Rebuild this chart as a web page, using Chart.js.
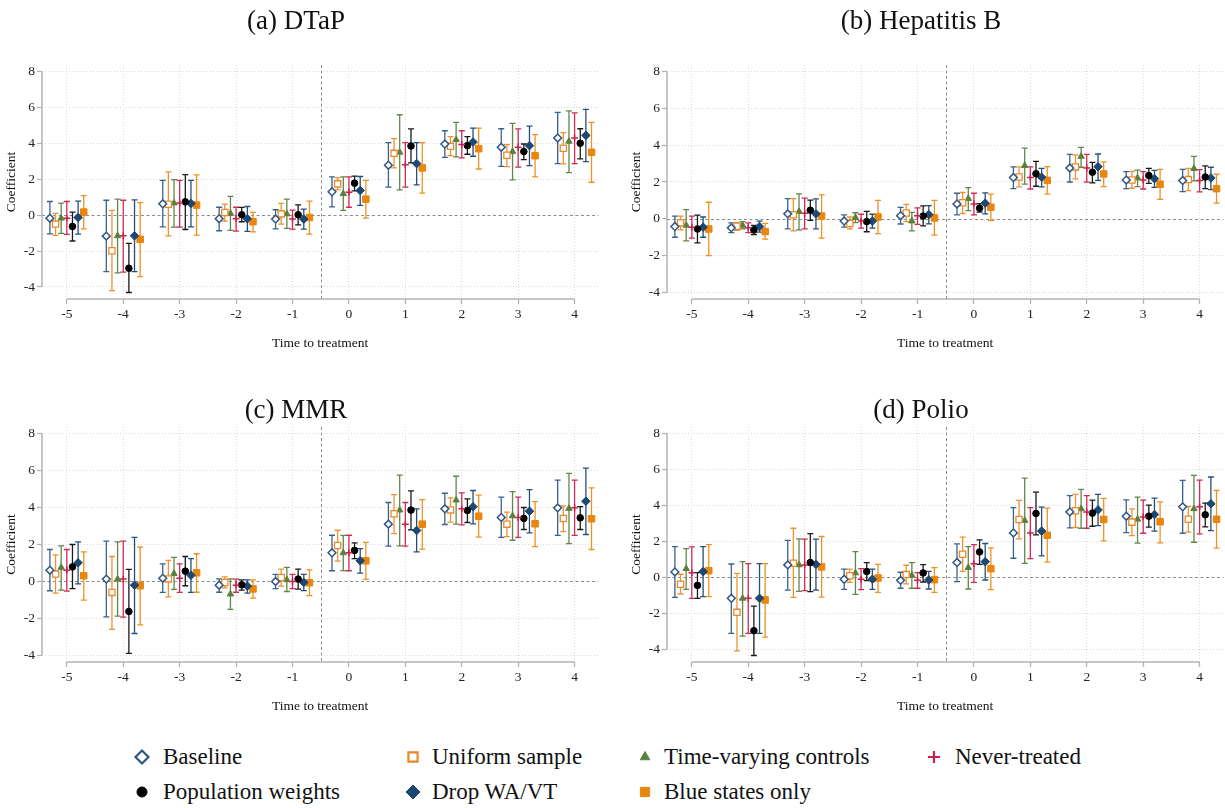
<!DOCTYPE html>
<html>
<head>
<meta charset="utf-8">
<title>Event-study coefficients by vaccine</title>
<script src="https://cdn.jsdelivr.net/npm/chart.js@4.4.1/dist/chart.umd.min.js"></script>
<style>
  html, body { margin: 0; padding: 0; background: #fff; }
  body { width: 1225px; height: 808px; overflow: hidden; position: relative;
         font-family: 'Liberation Serif', 'Times New Roman', serif; color: #111; }
  canvas.panel { position: absolute; }
  canvas.key { position: absolute; width: 24px; height: 24px; }
  span.key { position: absolute; font-size: 23px; line-height: 28px; white-space: nowrap; color: #111; }
</style>
</head>
<body>
<canvas id="pa" class="panel"></canvas>
<canvas id="pb" class="panel"></canvas>
<canvas id="pc" class="panel"></canvas>
<canvas id="pd" class="panel"></canvas>
<div id="legend"></div>

<script>
// ---- data --------------------------------------------------------------
const periods = [-5, -4, -3, -2, -1, 0, 1, 2, 3, 4];
const yTicks = [-4, -2, 0, 2, 4, 6, 8];
const seriesNames = ['Baseline', 'Uniform sample', 'Time-varying controls', 'Never-treated',
                     'Population weights', 'Drop WA/VT', 'Blue states only'];
const panelTitles = ['(a) DTaP', '(b) Hepatitis B', '(c) MMR', '(d) Polio'];

// rows follow seriesNames; columns follow periods
const dtapCoef = [
  [-0.17, -1.17, 0.63, -0.20, -0.22, 1.30, 2.78, 3.96, 3.78, 4.30],
  [-0.50, -1.98, 0.61, 0.15, 0.07, 1.74, 3.44, 3.83, 3.33, 3.72],
  [-0.17, -1.15, 0.67, 0.09, 0.07, 1.19, 3.50, 4.20, 3.54, 4.11],
  [-0.17, -1.15, 0.67, -0.20, -0.22, 1.28, 2.80, 3.94, 3.78, 4.30],
  [-0.63, -2.96, 0.74, 0.02, 0.02, 1.78, 3.85, 3.87, 3.54, 4.00],
  [-0.13, -1.15, 0.65, -0.20, -0.22, 1.37, 2.87, 4.07, 3.87, 4.44],
  [0.17, -1.35, 0.56, -0.37, -0.13, 0.89, 2.63, 3.70, 3.31, 3.50]
];
const dtapLo = [
  [-1.04, -3.15, -0.65, -0.87, -0.76, 0.46, 1.56, 3.22, 2.72, 2.87],
  [-1.13, -4.20, -1.15, -0.33, -0.50, 1.41, 2.63, 3.31, 2.70, 2.85],
  [-1.02, -3.22, -0.67, -0.85, -0.74, 0.26, 1.41, 3.24, 1.96, 2.37],
  [-1.07, -3.17, -0.67, -0.89, -0.78, 0.44, 1.56, 3.19, 2.67, 2.87],
  [-1.44, -4.31, -0.80, -0.37, -0.54, 1.35, 2.91, 3.39, 3.09, 3.13],
  [-1.06, -3.15, -0.65, -0.91, -0.78, 0.54, 1.69, 3.28, 2.76, 2.98],
  [-0.76, -3.43, -1.11, -0.93, -1.06, -0.17, 1.22, 2.57, 2.13, 1.83]
];
const dtapHi = [
  [0.76, 0.83, 1.93, 0.44, 0.30, 2.13, 4.04, 4.70, 4.81, 5.72],
  [0.10, 0.26, 2.41, 0.61, 0.65, 2.09, 4.26, 4.37, 3.93, 4.59],
  [0.67, 0.89, 1.98, 1.04, 0.89, 2.13, 5.59, 5.17, 5.11, 5.81],
  [0.76, 0.83, 1.94, 0.44, 0.28, 2.13, 4.04, 4.70, 4.80, 5.70],
  [0.17, -1.57, 2.26, 0.43, 0.57, 2.17, 4.80, 4.37, 3.96, 4.81],
  [0.78, 0.85, 1.93, 0.48, 0.33, 2.15, 4.04, 4.85, 4.96, 5.89],
  [1.09, 0.70, 2.24, 0.15, 0.78, 1.94, 4.04, 4.85, 4.48, 5.17]
];

const hepbCoef = [
  [-0.42, -0.49, 0.27, -0.12, 0.17, 0.81, 2.24, 2.76, 2.11, 2.08],
  [-0.22, -0.40, 0.22, -0.25, 0.32, 0.87, 2.27, 2.82, 2.11, 2.13],
  [-0.35, -0.35, 0.40, 0.07, -0.12, 1.10, 2.89, 3.39, 2.22, 2.73],
  [-0.45, -0.49, 0.30, -0.12, 0.17, 0.81, 2.24, 2.76, 2.11, 2.08],
  [-0.55, -0.60, 0.47, -0.15, 0.15, 0.58, 2.45, 2.53, 2.35, 2.27],
  [-0.45, -0.42, 0.27, -0.12, 0.23, 0.85, 2.26, 2.83, 2.18, 2.22],
  [-0.55, -0.69, 0.15, 0.10, 0.05, 0.63, 2.09, 2.44, 1.88, 1.64]
];
const hepbLo = [
  [-1.00, -0.75, -0.55, -0.45, -0.28, 0.22, 1.64, 2.00, 1.64, 1.48],
  [-0.60, -0.62, -0.65, -0.55, -0.15, 0.29, 1.73, 2.17, 1.66, 1.53],
  [-1.20, -0.55, -0.60, -0.20, -0.65, 0.45, 1.88, 2.80, 1.75, 2.06],
  [-1.05, -0.75, -0.55, -0.50, -0.30, 0.22, 1.62, 1.99, 1.62, 1.46],
  [-1.30, -0.85, -0.08, -0.70, -0.38, 0.36, 1.77, 1.95, 1.93, 1.64],
  [-1.00, -0.72, -0.55, -0.50, -0.27, 0.27, 1.73, 2.09, 1.71, 1.59],
  [-2.00, -1.10, -1.05, -0.80, -0.88, -0.09, 1.34, 1.75, 1.06, 0.85]
];
const hepbHi = [
  [0.15, -0.22, 1.10, 0.22, 0.62, 1.39, 2.82, 3.50, 2.56, 2.69],
  [0.15, -0.20, 1.10, 0.10, 0.78, 1.43, 2.82, 3.47, 2.58, 2.74],
  [0.50, -0.15, 1.35, 0.33, 0.35, 1.70, 3.84, 3.88, 2.65, 3.39],
  [0.15, -0.22, 1.12, 0.25, 0.60, 1.39, 2.82, 3.50, 2.56, 2.67],
  [0.20, -0.35, 1.02, 0.40, 0.70, 0.83, 3.12, 3.07, 2.74, 2.87],
  [0.10, -0.12, 1.08, 0.25, 0.72, 1.41, 2.74, 3.52, 2.63, 2.80],
  [0.90, -0.25, 1.30, 1.00, 1.00, 1.34, 2.83, 3.09, 2.69, 2.42]
];

const mmrCoef = [
  [0.61, 0.13, 0.18, -0.20, 0.00, 1.55, 3.10, 3.93, 3.46, 3.98],
  [0.40, -0.59, 0.14, -0.05, 0.22, 1.95, 3.66, 3.87, 3.10, 3.41],
  [0.76, 0.13, 0.43, -0.68, 0.09, 1.55, 3.86, 4.40, 3.55, 3.95],
  [0.61, 0.13, 0.18, -0.20, 0.00, 1.55, 3.10, 3.93, 3.46, 3.98],
  [0.79, -1.62, 0.56, -0.18, 0.13, 1.68, 3.86, 3.84, 3.41, 3.44],
  [1.01, -0.20, 0.34, -0.25, -0.05, 1.12, 2.76, 4.04, 3.80, 4.34],
  [0.31, -0.23, 0.47, -0.40, -0.07, 1.12, 3.10, 3.53, 3.12, 3.39]
];
const mmrLo = [
  [-0.50, -1.91, -0.59, -0.58, -0.38, 0.58, 1.91, 3.08, 2.38, 2.49],
  [-0.63, -2.59, -0.83, -0.34, -0.25, 1.10, 2.59, 3.21, 2.43, 2.70],
  [-0.47, -1.87, -0.43, -1.51, -0.54, 0.59, 1.93, 3.10, 2.23, 2.05],
  [-0.52, -1.93, -0.59, -0.58, -0.38, 0.58, 1.91, 3.06, 2.38, 2.49],
  [-0.38, -3.89, -0.23, -0.47, -0.41, 1.24, 2.79, 3.19, 2.81, 2.81],
  [-0.13, -2.81, -0.59, -0.63, -0.49, 0.45, 1.60, 3.12, 2.63, 2.54],
  [-1.01, -2.34, -0.58, -0.90, -0.76, 0.11, 1.75, 2.40, 1.89, 1.73]
];
const mmrHi = [
  [1.73, 2.18, 0.95, 0.14, 0.38, 2.50, 4.27, 4.77, 4.56, 5.48],
  [1.44, 1.35, 1.14, 0.25, 0.67, 2.77, 4.70, 4.52, 3.75, 4.09],
  [1.93, 2.14, 1.30, 0.14, 0.76, 2.49, 5.75, 5.69, 4.86, 5.84],
  [1.73, 2.18, 0.95, 0.13, 0.38, 2.50, 4.27, 4.79, 4.56, 5.48],
  [2.00, 0.65, 1.35, 0.09, 0.67, 2.09, 4.90, 4.47, 4.00, 4.05],
  [2.14, 2.38, 1.24, 0.09, 0.38, 1.78, 3.93, 4.92, 4.97, 6.13],
  [1.60, 1.86, 1.50, 0.09, 0.63, 2.11, 4.43, 4.67, 4.32, 5.06]
];

const polioCoef = [
  [0.30, -1.17, 0.69, -0.11, -0.17, 0.82, 2.47, 3.64, 3.40, 3.92],
  [-0.39, -1.95, 0.78, 0.09, 0.15, 1.28, 3.22, 3.70, 3.07, 3.23],
  [0.48, -1.17, 0.69, 0.24, 0.11, 0.54, 3.16, 3.81, 3.23, 3.81],
  [0.26, -1.17, 0.69, -0.11, -0.17, 0.76, 2.47, 3.64, 3.36, 3.92],
  [-0.45, -2.97, 0.82, 0.32, 0.24, 1.41, 3.55, 3.57, 3.40, 3.48],
  [0.32, -1.17, 0.72, -0.11, -0.15, 0.87, 2.57, 3.75, 3.49, 4.09],
  [0.37, -1.26, 0.58, -0.04, -0.13, 0.48, 2.34, 3.22, 3.09, 3.23]
];
const polioLo = [
  [-1.12, -3.12, -0.71, -0.67, -0.61, -0.24, 1.06, 2.75, 2.49, 2.45],
  [-0.93, -4.09, -1.12, -0.28, -0.37, 0.33, 2.14, 2.77, 2.32, 2.51],
  [-0.67, -3.27, -0.78, -0.95, -0.61, -0.65, 0.78, 2.73, 1.90, 1.95],
  [-1.17, -3.12, -0.74, -0.69, -0.61, -0.28, 1.04, 2.73, 2.45, 2.42],
  [-1.17, -4.35, -0.80, -0.19, -0.26, 0.72, 2.36, 2.84, 2.79, 2.81],
  [-1.08, -3.12, -0.71, -0.67, -0.65, -0.15, 1.19, 2.88, 2.57, 2.60],
  [-1.08, -3.33, -1.10, -0.84, -0.84, -0.69, 0.84, 2.03, 1.91, 1.62]
];
const polioHi = [
  [1.71, 0.74, 2.06, 0.45, 0.28, 1.86, 3.88, 4.54, 4.31, 5.39],
  [0.17, 0.22, 2.73, 0.45, 0.67, 2.23, 4.28, 4.61, 3.81, 3.94],
  [1.60, 0.87, 2.14, 1.43, 0.82, 1.71, 5.52, 4.89, 4.46, 5.67],
  [1.69, 0.76, 2.12, 0.48, 0.26, 1.82, 3.88, 4.54, 4.29, 5.41],
  [0.26, -1.60, 2.43, 0.82, 0.71, 2.08, 4.74, 4.29, 4.01, 4.13],
  [1.71, 0.76, 2.12, 0.45, 0.33, 1.88, 3.90, 4.61, 4.41, 5.58],
  [1.82, 0.76, 2.27, 0.72, 0.54, 1.64, 3.85, 4.39, 4.20, 4.83]
];

// ---- styles & layout --------------------------------------------------
const FONT = "'Liberation Serif', 'Times New Roman', serif";
const TITLE_SIZE = 27;
const seriesStyle = [
  { offset: -0.3, point: 'rectRot',  r: 3.9, fill: '#ffffff', line: '#2f5786', bw: 1.5, bar: '#3a6290' },
  { offset: -0.2, point: 'rect',     r: 4.4, fill: '#ffffff', line: '#e8892a', bw: 1.3, bar: '#ec9231' },
  { offset: -0.1, point: 'triangle', r: 3.7, fill: '#5b7f3c', line: '#5b7f3c', bw: 1,   bar: '#61864a' },
  { offset:  0.0, point: 'cross',    r: 3.4, fill: '#cc1f4c', line: '#cc1f4c', bw: 1.5, bar: '#d02a55' },
  { offset:  0.1, point: 'circle',   r: 3.3, fill: '#000000', line: '#000000', bw: 1,   bar: '#1a1a1a' },
  { offset:  0.2, point: 'rectRot',  r: 4.3, fill: '#1d4873', line: '#1d4873', bw: 1,   bar: '#244f7b' },
  { offset:  0.3, point: 'rect',     r: 4.6, fill: '#e8860e', line: '#e8860e', bw: 1,   bar: '#ee9122' }
];
const panelData = [
  [dtapCoef, dtapLo, dtapHi],
  [hepbCoef, hepbLo, hepbHi],
  [mmrCoef, mmrLo, mmrHi],
  [polioCoef, polioLo, polioHi]
];
const panelLayout = [
  { id: 'pa', left: -8,  top: 0,   height: 360, titleTop: 5.8 },
  { id: 'pb', left: 617, top: 0,   height: 360, titleTop: 5.8 },
  { id: 'pc', left: -8,  top: 362, height: 361, titleTop: 32.8 },
  { id: 'pd', left: 617, top: 362, height: 361, titleTop: 32.8 }
];
const legendCols = [{ m: 142, t: 163 }, { m: 413, t: 432 }, { m: 645, t: 664 }, { m: 934, t: 955 }];
const legendRows = [757, 792];

// ---- plugins ------------------------------------------------------------
// dashed reference lines at y = 0 and between the pre- and post-treatment periods
const referenceLines = {
  id: 'referenceLines',
  beforeDatasetsDraw(chart) {
    const { ctx, chartArea: a, scales: { x, y } } = chart;
    ctx.save();
    ctx.strokeStyle = '#8c8c8c';
    ctx.lineWidth = 1;
    ctx.setLineDash([3, 2.5]);
    const y0 = Math.round(y.getPixelForValue(0)) + 0.5;
    ctx.beginPath(); ctx.moveTo(a.left, y0); ctx.lineTo(a.right, y0); ctx.stroke();
    const xv = Math.round(x.getPixelForValue(-0.5)) + 0.5;
    ctx.beginPath(); ctx.moveTo(xv, a.top); ctx.lineTo(xv, a.bottom); ctx.stroke();
    ctx.restore();
  }
};

// axis lines that run only between the first and last tick
const axisLines = {
  id: 'axisLines',
  afterDatasetsDraw(chart) {
    const { ctx, chartArea: a, scales: { x, y } } = chart;
    ctx.save();
    ctx.strokeStyle = '#b4b4b4';
    ctx.lineWidth = 1.5;
    ctx.beginPath();
    ctx.moveTo(a.left, y.getPixelForValue(yTicks[yTicks.length - 1]));
    ctx.lineTo(a.left, y.getPixelForValue(yTicks[0]));
    ctx.moveTo(x.getPixelForValue(periods[0]), a.bottom);
    ctx.lineTo(x.getPixelForValue(periods[periods.length - 1]), a.bottom);
    ctx.stroke();
    ctx.restore();
  }
};

// capped confidence-interval bars for every point
const ciBars = {
  id: 'ciBars',
  beforeDatasetsDraw(chart) {
    const { ctx, chartArea: a, scales: { x, y } } = chart;
    ctx.save();
    ctx.beginPath(); ctx.rect(a.left, a.top, a.width, a.height); ctx.clip();
    ctx.lineWidth = 1.3;
    chart.data.datasets.forEach((ds) => {
      ctx.strokeStyle = ds.barColor;
      ds.data.forEach((p) => {
        const px = x.getPixelForValue(p.x);
        const yl = y.getPixelForValue(p.lo);
        const yh = y.getPixelForValue(p.hi);
        ctx.beginPath();
        ctx.moveTo(px, yl); ctx.lineTo(px, yh);
        ctx.moveTo(px - 3, yh); ctx.lineTo(px + 3, yh);
        ctx.moveTo(px - 3, yl); ctx.lineTo(px + 3, yl);
        ctx.stroke();
      });
    });
    ctx.restore();
  }
};

// ---- charts -------------------------------------------------------------
function buildPanel(k) {
  const lay = panelLayout[k];
  const [coef, lo, hi] = panelData[k];
  const canvas = document.getElementById(lay.id);
  canvas.width = 612; canvas.height = lay.height;
  canvas.style.left = lay.left + 'px'; canvas.style.top = lay.top + 'px';
  canvas.style.width = '612px'; canvas.style.height = lay.height + 'px';

  const allLo = Math.min(yTicks[0], ...lo.flat());
  const allHi = Math.max(yTicks[yTicks.length - 1], ...hi.flat());
  const pad = 0.0293 * (allHi - allLo);

  const datasets = seriesNames.map((name, s) => {
    const st = seriesStyle[s];
    return {
      label: name,
      data: periods.map((t, i) => ({ x: t + st.offset, y: coef[s][i], lo: lo[s][i], hi: hi[s][i] })),
      barColor: st.bar,
      pointStyle: st.point,
      pointRadius: st.r,
      pointHoverRadius: st.r,
      pointBackgroundColor: st.fill,
      pointBorderColor: st.line,
      pointBorderWidth: st.bw,
      showLine: false
    };
  });

  const tickFont = { family: FONT, size: 13.5 };
  return new Chart(canvas, {
    type: 'scatter',
    data: { datasets },
    options: {
      responsive: false,
      animation: false,
      events: [],
      layout: { padding: { left: 0, right: 4, top: 0, bottom: 0 } },
      plugins: {
        legend: { display: false },
        tooltip: { enabled: false },
        title: {
          display: true,
          text: panelTitles[k],
          color: '#111',
          font: { family: FONT, size: TITLE_SIZE, weight: 'normal', lineHeight: 1.2 },
          padding: { top: lay.titleTop, bottom: 65 - 1.2 * TITLE_SIZE - lay.titleTop }
        }
      },
      scales: {
        x: {
          type: 'linear',
          min: -5.44,
          max: 4.42,
          afterBuildTicks: (sc) => { sc.ticks = periods.map(v => ({ value: v })); },
          afterFit: (sc) => { sc.height = 61; },
          ticks: { autoSkip: false, maxRotation: 0, padding: 2, color: '#222', font: tickFont,
                   callback: (v) => String(v) },
          grid: { color: '#dadada', lineWidth: 1, tickLength: 5, tickColor: '#b4b4b4', tickWidth: 1.3 },
          border: { display: false, dash: [1, 2] },
          title: { display: true, text: 'Time to treatment', color: '#111',
                   font: { family: FONT, size: 13.5 }, padding: { top: 0, bottom: 8 } }
        },
        y: {
          type: 'linear',
          min: allLo - pad,
          max: allHi + pad,
          afterBuildTicks: (sc) => { sc.ticks = yTicks.map(v => ({ value: v })); },
          afterFit: (sc) => { sc.width = 50; },
          ticks: { padding: 2, color: '#222', font: tickFont, callback: (v) => String(v) },
          grid: { color: (c) => (c.tick && c.tick.value === 0 ? 'rgba(0,0,0,0)' : '#dadada'),
                  lineWidth: 1, tickLength: 5, tickColor: '#b4b4b4', tickWidth: 1.3 },
          border: { display: false, dash: [1, 2] },
          title: { display: true, text: 'Coefficient', color: '#111',
                   font: { family: FONT, size: 13.5 }, padding: { top: 11, bottom: 0 } }
        }
      }
    },
    plugins: [referenceLines, ciBars, axisLines]
  });
}
panelTitles.forEach((_, k) => buildPanel(k));

// ---- shared legend ------------------------------------------------------
const legendMarkerSize = [6.5, 6.5, 5.5, 6, 5, 7, 6.5];
const legend = document.getElementById('legend');
seriesNames.forEach((name, s) => {
  const row = s < 4 ? 0 : 1;
  const col = s < 4 ? s : s - 4;
  const cy = legendRows[row];
  const st = seriesStyle[s];

  const c = document.createElement('canvas');
  c.className = 'key'; c.width = 24; c.height = 24;
  c.style.left = (legendCols[col].m - 12) + 'px';
  c.style.top = (cy - 12) + 'px';
  const g = c.getContext('2d');
  g.fillStyle = st.fill;
  g.strokeStyle = st.line;
  g.lineWidth = st.fill === '#ffffff' || st.point === 'cross' ? 2.2 : 1;
  Chart.helpers.drawPoint(g, { pointStyle: st.point, radius: legendMarkerSize[s], rotation: 0,
                               borderWidth: g.lineWidth }, 12, 12);
  legend.appendChild(c);

  const t = document.createElement('span');
  t.className = 'key';
  t.textContent = name;
  t.style.left = legendCols[col].t + 'px';
  t.style.top = (cy - 14) + 'px';
  legend.appendChild(t);
});
</script>
</body>
</html>
